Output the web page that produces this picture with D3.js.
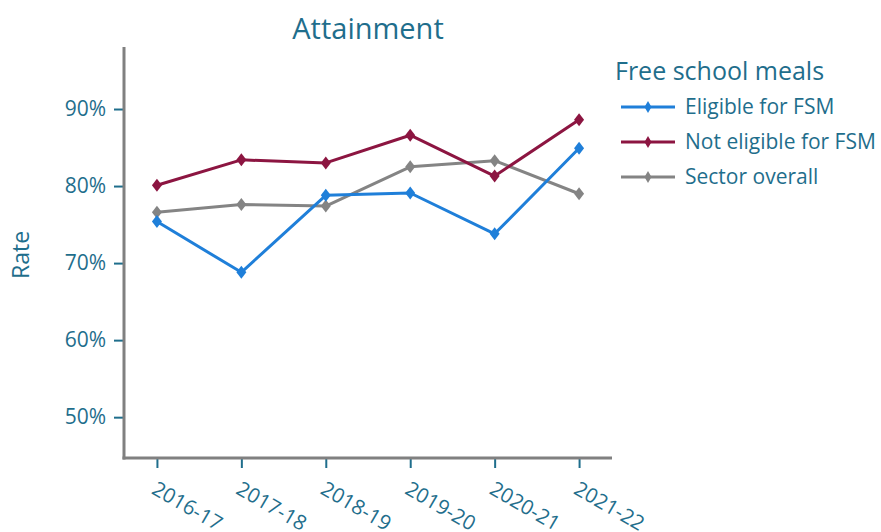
<!DOCTYPE html>
<html>
<head>
<meta charset="utf-8">
<script src="https://cdn.jsdelivr.net/npm/d3@7"></script>
<style>
  html, body { margin: 0; padding: 0; background: #fff; }
  svg { display: block; font-family: "Open Sans", "Noto Sans", sans-serif; }
</style>
</head>
<body>
<svg id="chart" width="881" height="532"></svg>
<script>
// School years on the x axis
const years = ["2016-17", "2017-18", "2018-19", "2019-20", "2020-21", "2021-22"];

// Attainment rates (%) by free-school-meal status
const eligibleFSM    = [75.4, 68.8, 78.8, 79.1, 73.8, 84.9];
const notEligibleFSM = [80.1, 83.4, 83.0, 86.6, 81.3, 88.6];
const sectorOverall  = [76.6, 77.6, 77.4, 82.5, 83.3, 79.0];

const seriesNames  = ["Eligible for FSM", "Not eligible for FSM", "Sector overall"];
const seriesColors = ["#1f7fd9", "#8c1541", "#848484"];
const yTicks = [50, 60, 70, 80, 90];

const series = [eligibleFSM, notEligibleFSM, sectorOverall].map((vals, i) => ({
  name: seriesNames[i],
  color: seriesColors[i],
  values: vals.map((v, j) => ({ year: years[j], value: v }))
}));

const textColor = "#1f6e8c";
const axisColor = "#808080";
const font = "Open Sans, Noto Sans, sans-serif";

const svg = d3.select("#chart");
const plot = { left: 124, right: 612, top: 47, bottom: 458 };

const x = d3.scalePoint().domain(years).range([plot.left, plot.right]).padding(0.39);
const y = d3.scaleLinear().domain([44.7, 98.05]).range([plot.bottom, plot.top]);

// Title
svg.append("text")
  .attr("x", 368).attr("y", 39)
  .attr("text-anchor", "middle")
  .attr("font-size", 29)
  .attr("fill", textColor)
  .text("Attainment");

// Y axis
const yAxis = svg.append("g")
  .attr("transform", `translate(${plot.left},0)`)
  .call(d3.axisLeft(y).tickValues(yTicks).tickFormat(d => d + "%").tickSize(10).tickPadding(8));
yAxis.select(".domain").remove();
yAxis.selectAll(".tick line").attr("stroke", textColor).attr("stroke-width", 2);
yAxis.selectAll(".tick text").attr("fill", textColor).attr("font-size", 21)
  .attr("font-family", font);

// X axis
const xAxis = svg.append("g")
  .attr("transform", `translate(0,${plot.bottom})`)
  .call(d3.axisBottom(x).tickSize(10).tickPadding(0));
xAxis.select(".domain").remove();
xAxis.selectAll(".tick line").attr("stroke", textColor).attr("stroke-width", 2);
xAxis.selectAll(".tick text")
  .attr("fill", textColor).attr("font-size", 20.5)
  .attr("font-family", font)
  .attr("text-anchor", "start")
  .attr("y", 0)
  .attr("dy", null)
  .attr("transform", "translate(-7,35) rotate(30)");

// Axis lines
svg.append("line")
  .attr("x1", plot.left).attr("x2", plot.left)
  .attr("y1", plot.top).attr("y2", plot.bottom + 1.5)
  .attr("stroke", axisColor).attr("stroke-width", 3);
svg.append("line")
  .attr("x1", plot.left - 1.5).attr("x2", plot.right)
  .attr("y1", plot.bottom).attr("y2", plot.bottom)
  .attr("stroke", axisColor).attr("stroke-width", 3);

// Y axis title
svg.append("text")
  .attr("transform", "translate(29,255) rotate(-90)")
  .attr("text-anchor", "middle")
  .attr("font-size", 23)
  .attr("fill", textColor)
  .text("Rate");

// Diamond marker shape
const diamond = (cx, cy, w = 5, h = 6.5) =>
  `M${cx},${cy - h}L${cx + w},${cy}L${cx},${cy + h}L${cx - w},${cy}Z`;

const line = d3.line().x(d => x(d.year)).y(d => y(d.value));

// Draw series (sector overall underneath)
const order = [2, 0, 1];
order.forEach(i => {
  const s = series[i];
  const g = svg.append("g");
  g.append("path")
    .attr("d", line(s.values))
    .attr("fill", "none")
    .attr("stroke", s.color)
    .attr("stroke-width", 3)
    .attr("stroke-linejoin", "round");
  g.selectAll("path.marker")
    .data(s.values)
    .join("path")
    .attr("class", "marker")
    .attr("d", d => diamond(x(d.year), y(d.value)))
    .attr("fill", s.color);
});

// Legend
const legend = svg.append("g");
legend.append("text")
  .attr("x", 615).attr("y", 80)
  .attr("font-size", 25)
  .attr("fill", textColor)
  .text("Free school meals");
series.forEach((s, i) => {
  const ly = 107 + i * 35;
  legend.append("line")
    .attr("x1", 621).attr("x2", 675)
    .attr("y1", ly).attr("y2", ly)
    .attr("stroke", s.color).attr("stroke-width", 3);
  legend.append("path")
    .attr("d", diamond(648, ly, 3.5, 6))
    .attr("fill", s.color);
  legend.append("text")
    .attr("x", 685).attr("y", ly + 7)
    .attr("font-size", 21)
    .attr("fill", textColor)
    .text(s.name);
});
</script>
</body>
</html>
